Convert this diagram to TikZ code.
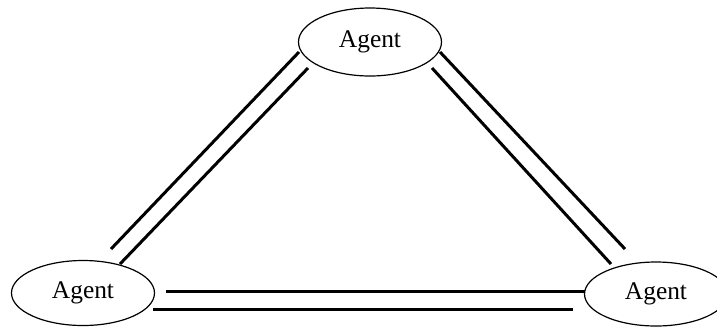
\documentclass[tikz,border=0pt]{standalone}
\usepackage{fontspec}
\setmainfont{Liberation Serif}
\usetikzlibrary{shapes.geometric}
\begin{document}
\begin{tikzpicture}[x=1bp,y=-1bp,
  agent/.style={ellipse,draw,line width=1.2bp,minimum width=143bp,minimum height=68bp,
    inner sep=0pt,font=\fontsize{25.5}{27}\selectfont},
  link/.style={line width=3bp}]
\useasboundingbox (0,0) rectangle (717,328);
% the three agents
\node[agent] (top)   at (370,42)  {Agent};
\node[agent,minimum height=65bp] (left)  at (83,293)  {Agent};
\node[agent,minimum height=64bp] (right) at (656,294) {Agent};
% end points of the paired links
\coordinate (tl1) at (299,52);  \coordinate (lt1) at (111,249);
\coordinate (tl2) at (308,68);  \coordinate (lt2) at (120,264);
\coordinate (tr1) at (440,52);  \coordinate (rt1) at (625,249);
\coordinate (tr2) at (432,68);  \coordinate (rt2) at (611,264);
\coordinate (lr1) at (166,291); \coordinate (rl1) at (585,291);
\coordinate (lr2) at (153,309); \coordinate (rl2) at (573,309);
% double links between the agents
\draw[link] (tl1) -- (lt1);
\draw[link] (tl2) -- (lt2);
\draw[link] (tr1) -- (rt1);
\draw[link] (tr2) -- (rt2);
\draw[link] (lr1) -- (rl1);
\draw[link] (lr2) -- (rl2);
\end{tikzpicture}
\end{document}
